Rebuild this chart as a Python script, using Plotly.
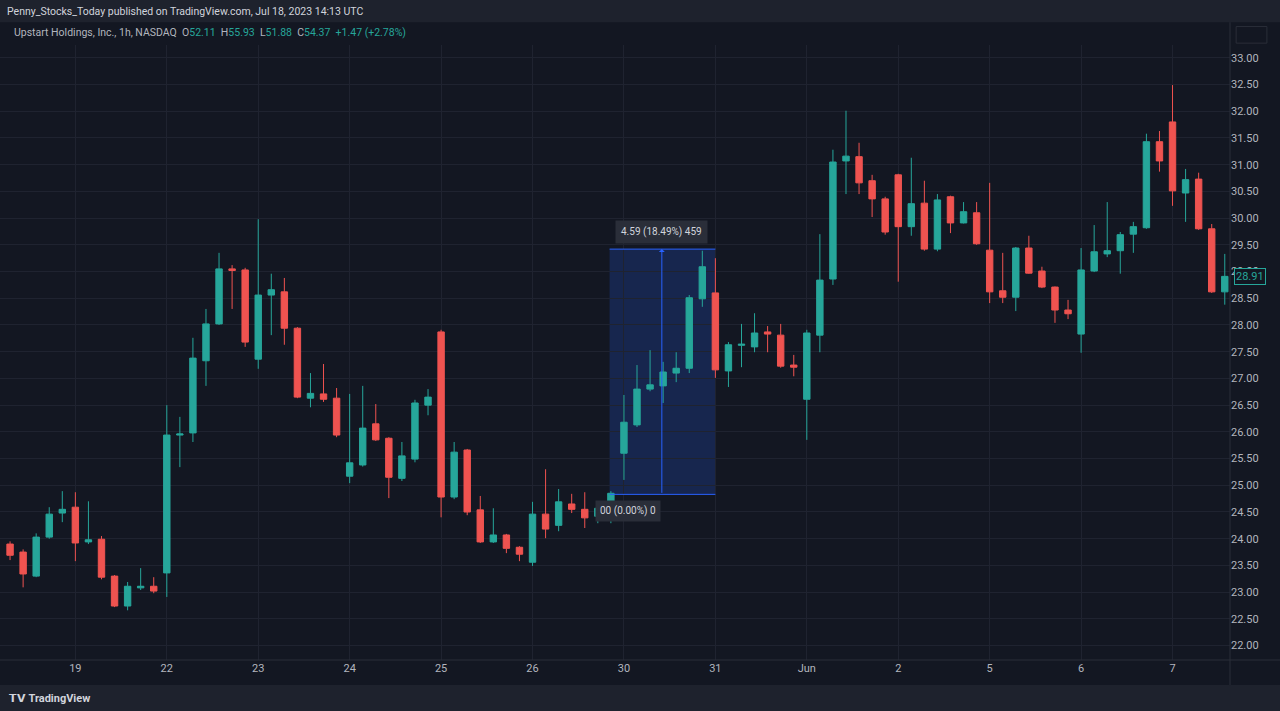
import plotly.graph_objects as go

# ---- data ----
day_labels = ["18", "19", "22", "23", "24", "25", "26", "30", "31", "Jun", "2", "5", "6", "7"]
bars_per_day = [5, 7, 7, 7, 7, 7, 7, 7, 7, 7, 7, 7, 7, 5]

opens = [23.90, 23.75, 23.30, 24.03, 24.48, 24.59, 23.94, 23.99, 23.30, 22.74, 23.08, 23.11,
         23.36, 25.94, 25.98, 27.33, 28.02, 29.05, 29.03, 27.36, 28.56, 28.62, 27.94, 26.63, 26.71,
         26.63, 25.17, 25.38, 26.15, 25.88, 25.13, 25.49, 26.50, 27.87, 24.78, 25.66, 24.54, 23.94,
         24.07, 23.84, 23.56, 24.46, 24.25, 24.65, 24.55, 24.42, 24.55, 25.60, 26.13, 26.80, 26.86,
         27.10, 27.19, 28.49, 28.60, 27.14, 27.62, 27.59, 27.87, 27.81, 27.25, 26.61, 27.81, 28.86,
         31.07, 31.15, 30.70, 30.36, 30.81, 29.84, 30.28, 29.42, 30.40, 29.91, 30.10, 29.40, 28.64,
         28.52, 29.44, 29.01, 28.71, 28.28, 27.83, 29.01, 29.33, 29.39, 29.70, 29.82, 31.43, 31.80,
         30.47, 30.73, 29.80, 28.62]
highs = [23.95, 23.80, 24.10, 24.59, 24.89, 24.87, 24.70, 24.05, 23.32, 23.19, 23.45, 23.28,
         26.50, 26.28, 27.76, 28.30, 29.35, 29.12, 29.07, 29.98, 28.96, 28.88, 27.96, 27.10, 27.27,
         26.82, 26.71, 26.86, 26.52, 25.90, 25.81, 26.60, 26.80, 27.91, 25.81, 25.68, 24.80, 24.57,
         24.09, 23.86, 24.69, 25.30, 24.93, 24.84, 24.87, 24.69, 24.89, 26.69, 27.25, 27.53, 27.31,
         27.49, 28.56, 29.39, 29.25, 27.68, 28.02, 28.22, 27.98, 28.02, 27.44, 27.91, 29.70, 31.28,
         32.01, 31.41, 30.81, 30.40, 30.83, 31.13, 30.70, 30.45, 30.42, 30.30, 30.30, 30.66, 29.35,
         29.46, 29.67, 29.09, 28.72, 28.47, 29.44, 29.87, 30.30, 29.74, 29.93, 31.58, 31.63, 32.49,
         30.92, 30.85, 29.89, 29.33]
lows = [23.60, 23.09, 23.28, 24.00, 24.31, 23.58, 23.90, 23.24, 22.72, 22.66, 23.04, 22.98,
        22.91, 25.34, 25.81, 26.86, 28.00, 28.30, 27.59, 27.18, 27.81, 27.63, 26.63, 26.46, 26.56,
        25.90, 25.04, 25.35, 25.83, 24.76, 25.08, 25.43, 26.31, 24.40, 24.74, 24.44, 23.92, 23.92,
        23.73, 23.58, 23.49, 24.01, 24.14, 24.48, 24.20, 24.29, 24.29, 25.10, 26.09, 26.76, 26.54,
        26.93, 27.10, 28.34, 27.01, 26.84, 27.21, 27.49, 27.49, 27.20, 27.04, 25.85, 27.49, 28.75,
        30.45, 30.45, 30.02, 29.69, 28.81, 29.67, 29.39, 29.38, 29.72, 29.90, 29.50, 28.41, 28.41,
        28.26, 28.96, 28.69, 28.04, 28.11, 27.48, 28.99, 29.27, 28.96, 29.35, 29.80, 30.87, 30.23,
        29.93, 29.78, 28.60, 28.38]
closes = [23.69, 23.34, 24.03, 24.46, 24.55, 23.92, 23.98, 23.28, 22.74, 23.11, 23.11, 23.02,
          25.94, 25.96, 27.38, 28.02, 29.05, 29.02, 27.68, 28.56, 28.66, 27.94, 26.65, 26.72, 26.61,
          25.94, 25.42, 26.07, 25.85, 25.15, 25.55, 26.54, 26.65, 24.78, 25.62, 24.50, 23.94, 24.07,
          23.82, 23.71, 24.46, 24.18, 24.69, 24.55, 24.39, 24.57, 24.85, 26.18, 26.80, 26.88, 27.12,
          27.19, 28.51, 29.09, 27.16, 27.63, 27.64, 27.85, 27.83, 27.23, 27.21, 27.85, 28.84, 31.05,
          31.16, 30.66, 30.36, 29.74, 29.84, 30.27, 29.42, 30.34, 29.91, 30.12, 29.52, 28.62, 28.52,
          29.44, 28.97, 28.71, 28.28, 28.21, 29.03, 29.37, 29.39, 29.69, 29.84, 31.43, 31.07, 30.51,
          30.72, 29.80, 28.62, 28.91]

price_ticks = [22.0 + 0.5 * i for i in range(23)]
measure_start, measure_end = 24.83, 29.42
measure_label = "4.59 (18.49%) 459"
last_price = 28.91

# ---- build x positions / ticks ----
x = list(range(len(opens)))
tickvals, ticktext = [], []
pos = 0
for lab, n in zip(day_labels, bars_per_day):
    if lab != "18":
        tickvals.append(pos)
        ticktext.append(lab)
    pos += n

BG = "#131722"
GREEN, RED = "#26a69a", "#ef5350"
TXT = "#b2b5be"
FONT = "Roboto"

fig = go.Figure()
fig.add_trace(go.Candlestick(
    x=x, open=opens, high=highs, low=lows, close=closes,
    increasing=dict(line=dict(color=GREEN, width=1), fillcolor=GREEN),
    decreasing=dict(line=dict(color=RED, width=1), fillcolor=RED),
    whiskerwidth=0, showlegend=False, hoverinfo="skip",
))

# measurement tool
x0, x1 = 46 - 0.1, 54 + 0.0
xm = 49.9
fig.add_shape(type="rect", x0=x0, x1=x1, y0=measure_start, y1=measure_end,
              fillcolor="rgba(41,98,255,0.2)", line=dict(width=0), layer="below")
for yv in (measure_start, measure_end):
    fig.add_shape(type="line", x0=x0, x1=x1, y0=yv, y1=yv, line=dict(color="#2962ff", width=1))
fig.add_annotation(x=xm, y=measure_end, ax=xm, ay=measure_start, xref="x", yref="y",
                   axref="x", ayref="y", showarrow=True, arrowhead=1, arrowsize=1,
                   arrowwidth=1, arrowcolor="#2962ff", text="")
fig.add_annotation(x=xm, y=measure_end, yshift=17, text=measure_label, showarrow=False,
                   font=dict(color="#d1d4dc", size=10, family=FONT), bgcolor="#2a2e39",
                   borderpad=5)
fig.add_annotation(x=47.3, y=measure_start, yshift=-17, text="00 (0.00%) 0", showarrow=False,
                   font=dict(color="#d1d4dc", size=10, family=FONT), bgcolor="#2a2e39",
                   borderpad=4)

# header / footer
fig.add_shape(type="rect", xref="paper", yref="paper", x0=0, x1=1.05, y0=1.037, y1=1.08,
              fillcolor="#1e222d", line=dict(width=0))
fig.add_shape(type="rect", xref="paper", yref="paper", x0=0, x1=1.05, y0=-0.09, y1=-0.0407,
              fillcolor="#1e222d", line=dict(width=0))
fig.add_annotation(xref="paper", yref="paper", x=0.004, y=1.055, xanchor="left", yanchor="middle",
                   text="Penny_Stocks_Today published on TradingView.com, Jul 18, 2023 14:13 UTC",
                   showarrow=False, font=dict(color="#d1d4dc", size=10.5, family=FONT))
g = GREEN
legend = ("Upstart Holdings, Inc., 1h, NASDAQ  "
          f"O<span style='color:{g}'>52.11</span>  H<span style='color:{g}'>55.93</span>  "
          f"L<span style='color:{g}'>51.88</span>  C<span style='color:{g}'>54.37</span>  "
          f"<span style='color:{g}'>+1.47 (+2.78%)</span>")
fig.add_annotation(xref="paper", yref="paper", x=0.01, y=1.021, xanchor="left", yanchor="middle",
                   text=legend, showarrow=False, font=dict(color=TXT, size=10.5, family=FONT))
fig.add_annotation(xref="paper", yref="paper", x=0.006, y=-0.062, xanchor="left", yanchor="middle",
                   text="<b>𝗧𝗩 TradingView</b>", showarrow=False,
                   font=dict(color="#d1d4dc", size=11, family=FONT))
fig.add_shape(type="rect", xref="paper", yref="paper", x0=1.005, x1=1.03, y0=1.003, y1=1.03,
              fillcolor="#131722", line=dict(color="#2a2e39", width=1))
# price axis border and bottom axis line
fig.add_shape(type="line", xref="paper", yref="paper", x0=1, x1=1, y0=-0.0407, y1=1.037,
              line=dict(color="#2a2e39", width=1))
fig.add_shape(type="line", xref="paper", yref="paper", x0=0, x1=1.05, y0=0, y1=0,
              line=dict(color="#2a2e39", width=1))
# last price label
fig.add_annotation(xref="paper", yref="y", x=1.003, y=last_price, xanchor="left",
                   text=f"{last_price:.2f}", showarrow=False, bgcolor=BG,
                   bordercolor=GREEN, borderwidth=1, borderpad=1,
                   font=dict(color=GREEN, size=11, family=FONT))

fig.update_layout(
    width=1280, height=711, paper_bgcolor=BG, plot_bgcolor=BG,
    margin=dict(l=0, r=50, t=45, b=51),
    font=dict(family=FONT, color=TXT, size=11),
    xaxis=dict(range=[-0.77, 93.4], tickvals=tickvals, ticktext=ticktext,
               showgrid=True, gridcolor="#1f2330", zeroline=False,
               rangeslider=dict(visible=False), ticks="", ticklen=0,
               tickfont=dict(color=TXT, size=11)),
    yaxis=dict(range=[21.73, 33.24], side="right", tickvals=price_ticks,
               ticktext=[f"{v:.2f}" for v in price_ticks], showgrid=True,
               gridcolor="#1f2330", zeroline=False, tickfont=dict(color=TXT, size=11)),
)

fig.write_html("out.html", config={"displayModeBar": False})
with open("out.html", encoding="utf-8") as fh:
    page = fh.read()
page = page.replace("<head>", "<head><style>html,body{margin:0;padding:0;overflow:hidden;background:#131722;}</style>", 1)
with open("out.html", "w", encoding="utf-8") as fh:
    fh.write(page)
